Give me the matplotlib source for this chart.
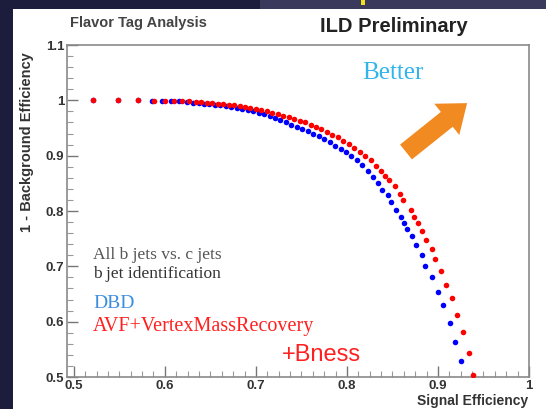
import matplotlib
matplotlib.use("Agg")
import matplotlib.pyplot as plt
import matplotlib.patches as mpatches
from matplotlib.transforms import IdentityTransform
from matplotlib.ticker import AutoMinorLocator

# DBD b-tag performance (blue)
dbd_sig = [0.521, 0.549, 0.570, 0.586, 0.597, 0.607, 0.616, 0.624, 0.631, 0.637,
           0.643, 0.649, 0.655, 0.661, 0.667, 0.673, 0.679, 0.685, 0.691, 0.697,
           0.703, 0.709, 0.715, 0.721, 0.727, 0.733, 0.739, 0.745, 0.751, 0.757,
           0.763, 0.769, 0.775, 0.781, 0.787, 0.793, 0.799, 0.805, 0.811, 0.817,
           0.823, 0.829, 0.834, 0.839, 0.845, 0.848, 0.854, 0.859, 0.863, 0.866,
           0.871, 0.876, 0.882, 0.886, 0.893, 0.900, 0.906, 0.913, 0.919, 0.925]
dbd_rej = [1.000, 1.000, 1.000, 0.999, 0.999, 0.998, 0.998, 0.997, 0.996, 0.995,
           0.994, 0.993, 0.992, 0.991, 0.990, 0.988, 0.987, 0.985, 0.983, 0.981,
           0.978, 0.975, 0.972, 0.968, 0.964, 0.960, 0.956, 0.952, 0.948, 0.944,
           0.940, 0.935, 0.930, 0.924, 0.918, 0.912, 0.906, 0.900, 0.893, 0.884,
           0.873, 0.861, 0.850, 0.838, 0.829, 0.817, 0.802, 0.790, 0.779, 0.767,
           0.754, 0.739, 0.721, 0.701, 0.680, 0.654, 0.630, 0.598, 0.564, 0.529]

# AVF + vertex mass recovery + Bness (red)
avf_sig = [0.521, 0.549, 0.570, 0.588, 0.600, 0.610, 0.619, 0.627, 0.634, 0.640,
           0.646, 0.652, 0.658, 0.664, 0.670, 0.676, 0.682, 0.688, 0.694, 0.700,
           0.706, 0.712, 0.718, 0.724, 0.730, 0.736, 0.742, 0.748, 0.754, 0.760,
           0.766, 0.772, 0.778, 0.784, 0.790, 0.796, 0.802, 0.808, 0.814, 0.820,
           0.826, 0.832, 0.837, 0.842, 0.846, 0.853, 0.858, 0.862, 0.870, 0.874,
           0.878, 0.882, 0.887, 0.893, 0.897, 0.903, 0.909, 0.915, 0.921, 0.928,
           0.934, 0.939]
avf_rej = [1.000, 1.000, 1.000, 0.999, 0.999, 0.999, 0.998, 0.998, 0.997, 0.997,
           0.996, 0.995, 0.994, 0.993, 0.992, 0.991, 0.990, 0.988, 0.986, 0.984,
           0.982, 0.980, 0.977, 0.975, 0.972, 0.969, 0.966, 0.963, 0.960, 0.956,
           0.952, 0.948, 0.943, 0.938, 0.933, 0.927, 0.921, 0.914, 0.907, 0.900,
           0.892, 0.882, 0.873, 0.864, 0.856, 0.845, 0.831, 0.820, 0.801, 0.790,
           0.778, 0.763, 0.748, 0.731, 0.713, 0.692, 0.666, 0.642, 0.612, 0.581,
           0.544, 0.504]

x_ticks = [0.5, 0.6, 0.7, 0.8, 0.9, 1.0]
x_ticklabels = ["0.5", "0.6", "0.7", "0.8", "0.9", "1"]
y_ticks = [0.5, 0.6, 0.7, 0.8, 0.9, 1.0, 1.1]
y_ticklabels = ["0.5", "0.6", "0.7", "0.8", "0.9", "1", "1.1"]

W, H = 546, 409
fig = plt.figure(figsize=(W / 100, H / 100), dpi=100)
fig.patch.set_facecolor("white")
px = IdentityTransform()

# slide border
fig.patches.append(mpatches.Rectangle((0, 0), 13, H, transform=px,
                                      facecolor="#1c1c3c", edgecolor="none", zorder=0))
fig.patches.append(mpatches.Rectangle((0, H - 9), 260, 9, transform=px,
                                      facecolor="#1c1c3c", edgecolor="none", zorder=0))
fig.patches.append(mpatches.Rectangle((260, H - 9), W - 260, 9, transform=px,
                                      facecolor="#3a3a5c", edgecolor="none", zorder=0))
fig.patches.append(mpatches.Rectangle((361, H - 5), 4, 5, transform=px,
                                      facecolor="#f0e020", edgecolor="none", zorder=1))

ax = fig.add_axes([67 / W, 32 / H, 462 / W, 332 / H])
ax.set_xlim(0.4925, 1.0)
ax.set_ylim(0.5, 1.1)

ax.plot(dbd_sig, dbd_rej, "o", color="#0000ff", markersize=4.0, markeredgewidth=0, zorder=3)
ax.plot(avf_sig, avf_rej, "o", color="#ff0000", markersize=4.0, markeredgewidth=0, zorder=4)

for s in ax.spines.values():
    s.set_color("#8a8a8a")
    s.set_linewidth(1.2)

ax.set_xticks(x_ticks)
ax.set_xticklabels(x_ticklabels)
ax.set_yticks(y_ticks)
ax.set_yticklabels(y_ticklabels)
ax.xaxis.set_minor_locator(AutoMinorLocator(8))
ax.yaxis.set_minor_locator(AutoMinorLocator(5))
ax.tick_params(which="major", direction="in", length=8, width=1, color="#777777",
               top=False, right=False, pad=2)
ax.tick_params(which="minor", direction="in", length=4, width=0.8, color="#999999",
               top=False, right=False)
for lab in ax.get_xticklabels() + ax.get_yticklabels():
    lab.set_fontfamily("Liberation Sans")
    lab.set_fontweight("bold")
    lab.set_fontsize(9.5)
    lab.set_color("#333333")

# axis titles, ROOT style (aligned to the far end)
fig.text(27 / W, 1 - 142 / H, "1 - Background Efficiency", rotation=90, ha="center", va="center",
         fontsize=10.5, fontweight="bold", family="Liberation Sans", color="#333333")
fig.text(528 / W, 1 / H, "Signal Efficiency", ha="right", va="bottom",
         fontsize=10, fontweight="bold", family="Liberation Sans", color="#333333")

fig.text(70 / W, 1 - 23 / H, "Flavor Tag Analysis", ha="left", va="center",
         fontsize=10.5, fontweight="bold", family="Liberation Sans", color="#444444")
fig.text(320 / W, 1 - 27 / H, "ILD Preliminary", ha="left", va="center",
         fontsize=14.5, fontweight="bold", family="Liberation Sans", color="#222222")

fig.text(362 / W, 1 - 73 / H, "Better", ha="left", va="center",
         fontsize=18, family="Liberation Serif", color="#33b5ec")

# "better" direction arrow
fig.patches.append(mpatches.FancyArrow(406, H - 152, 60 * 0.68, 48 * 0.68, width=19,
                                       head_width=40, head_length=26,
                                       length_includes_head=False, transform=px,
                                       facecolor="#f28a22", edgecolor="none", zorder=5))

# legend text
fig.text(93 / W, 1 - 255 / H, "All b jets vs. c jets", ha="left", va="center",
         fontsize=12.5, family="Liberation Serif", color="#555555")
fig.text(93 / W, 1 - 274 / H, "b jet identification", ha="left", va="center",
         fontsize=12.5, family="Liberation Serif", color="#333333")
fig.text(93 / W, 1 - 303 / H, "DBD", ha="left", va="center",
         fontsize=14, family="Liberation Serif", color="#3a8ee0")
fig.text(93 / W, 1 - 326 / H, "AVF+VertexMassRecovery", ha="left", va="center",
         fontsize=14.5, family="Liberation Serif", color="#ff2020")
fig.text(282 / W, 1 - 355 / H, "+Bness", ha="left", va="center",
         fontsize=17, family="Liberation Sans", color="#ff2020")

fig.savefig("out.png", dpi=100)
